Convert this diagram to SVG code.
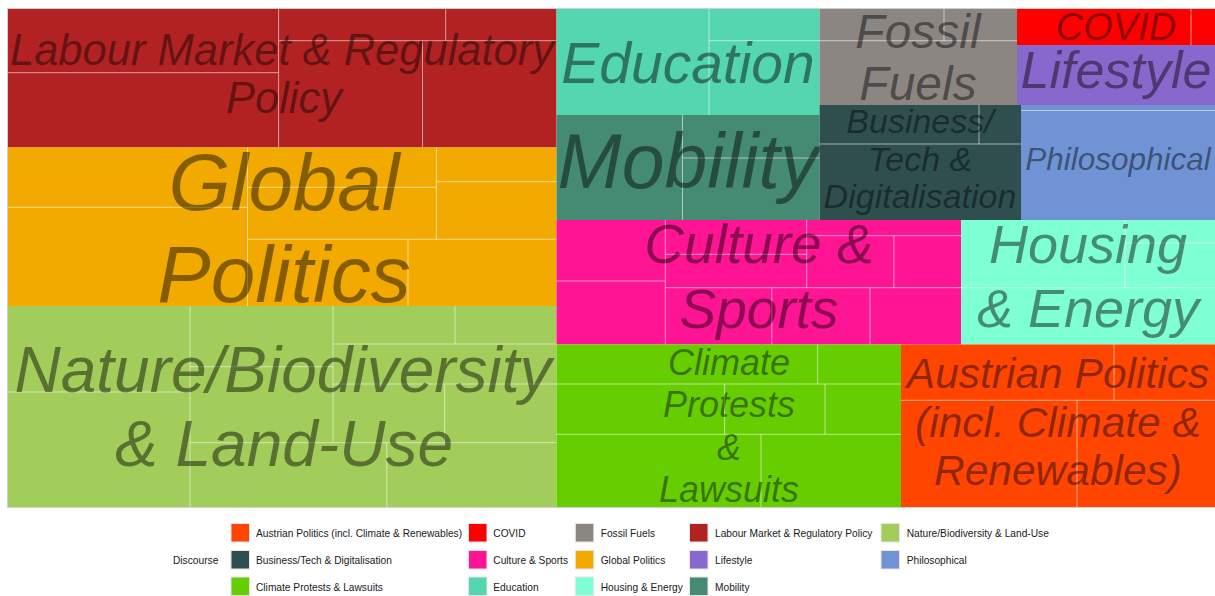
<svg xmlns="http://www.w3.org/2000/svg" width="1215" height="596" viewBox="0 0 1215 596">
<style>
.lbl{font-family:"Liberation Sans",Arial,sans-serif;font-style:italic;text-anchor:middle;fill:#000;fill-opacity:0.45}
.sub{stroke:#fff;stroke-opacity:0.55;stroke-width:1;fill:none}
.leg{font-family:"Liberation Sans",Arial,sans-serif;font-size:10.2px;fill:#1a1a1a}
.key{stroke:#e6e6e6;stroke-width:1}
</style>
<rect x="0" y="0" width="1215" height="596" fill="#fff"/>
<rect x="7.5" y="8.5" width="1208" height="499" fill="none" stroke="#cfcfcf" stroke-width="1"/>

<g id="labour">
<rect x="8" y="9" width="548.5" height="138.5" fill="#B22222"/>
<path class="sub" d="M8 72.7H278.6M278.6 9V147.5M278.6 40.7H556.5M445.7 9V40.7M422.5 40.7V147.5"/>
<text class="lbl" x="282" y="65" font-size="43.5">Labour Market &amp; Regulatory</text>
<text class="lbl" x="284" y="113" font-size="43.5">Policy</text>
</g>

<g id="global-politics">
<rect x="8" y="147.5" width="548.5" height="158.5" fill="#F2AA00"/>
<path class="sub" d="M8 207.3H247.5M247.5 147.5V306M247.5 187.3H436.4M436.4 147.5V239.3M436.4 181.7H556.5M247.5 239.3H556.5M408 239.3V306"/>
<text class="lbl" x="284" y="210" font-size="80">Global</text>
<text class="lbl" x="284" y="302" font-size="80">Politics</text>
</g>

<g id="nature">
<rect x="8" y="306" width="548.5" height="201" fill="#A2CD5A"/>
<path class="sub" d="M190 306V507M8 392H190M190 366.7H333M333 306V442.7M333 344H556.5M455 306V344M333 384H556.5M444.6 384V442.7M190 442.7H556.5M386.8 442.7V507"/>
<text class="lbl" x="283" y="392" font-size="64">Nature/Biodiversity</text>
<text class="lbl" x="284" y="466" font-size="64">&amp; Land-Use</text>
</g>

<g id="education">
<rect x="556.5" y="9" width="263" height="106" fill="#54D6B0"/>
<path class="sub" d="M709 9V115M709 40.7H819.5"/>
<text class="lbl" x="688" y="83" font-size="57">Education</text>
</g>

<g id="mobility">
<rect x="556.5" y="115" width="263" height="105" fill="#458B74"/>
<path class="sub" d="M682.5 115V220M682.5 158H819.5"/>
<text class="lbl" x="688" y="188" font-size="77">Mobility</text>
</g>

<g id="fossil-fuels">
<rect x="819.5" y="9" width="197.5" height="96" fill="#8B8682"/>
<path class="sub" d="M944 9V40.7M819.5 40.7H1017"/>
<text class="lbl" x="918" y="48" font-size="48">Fossil</text>
<text class="lbl" x="918" y="100" font-size="48">Fuels</text>
</g>

<g id="covid">
<rect x="1017" y="9" width="198" height="36" fill="#FF0000"/>
<path class="sub" d="M1191 9V45"/>
<text class="lbl" x="1116" y="40" font-size="38">COVID</text>
</g>

<g id="lifestyle">
<rect x="1017" y="45" width="198" height="60" fill="#8968CD"/>
<text class="lbl" x="1116" y="88" font-size="52">Lifestyle</text>
</g>

<g id="business">
<rect x="819.5" y="105" width="201.5" height="115" fill="#2F4F4F"/>
<path class="sub" d="M819.5 144H1021M979 105V144"/>
<text class="lbl" x="920" y="133" font-size="34">Business/</text>
<text class="lbl" x="920" y="171" font-size="34">Tech &amp;</text>
<text class="lbl" x="920" y="208" font-size="34">Digitalisation</text>
</g>

<g id="philosophical">
<rect x="1021" y="105" width="194" height="115" fill="#6F93D4"/>
<path class="sub" d="M1021 110.5H1215"/>
<text class="lbl" x="1118" y="170" font-size="31.5">Philosophical</text>
</g>

<g id="culture">
<rect x="556.5" y="220" width="404.5" height="124.5" fill="#FF1493"/>
<path class="sub" d="M665.3 220V344.5M556.5 281H665.3M665.3 287.7H961M806.7 220V287.7M806.7 235.7H961M893.9 235.7V287.7M665.3 254.3H806.7M771.8 287.7V344.5M870 287.7V344.5"/>
<text class="lbl" x="759" y="263" font-size="55">Culture &amp;</text>
<text class="lbl" x="759" y="328" font-size="55">Sports</text>
</g>

<g id="housing">
<rect x="961" y="220" width="254" height="124.5" fill="#7FFFD4"/>
<path class="sub" d="M961 287.7H1215M1125 220V287.7M1125 243H1215"/>
<text class="lbl" x="1088" y="263" font-size="54">Housing</text>
<text class="lbl" x="1088" y="327" font-size="54">&amp; Energy</text>
</g>

<g id="climate-protests">
<rect x="556.5" y="344.5" width="344.5" height="162.5" fill="#66CD00"/>
<path class="sub" d="M556.5 384H901M817.7 344.5V384M556.5 434.3H901M825 384V434.3M724.6 384V434.3M761 434.3V507"/>
<text class="lbl" x="729" y="375" font-size="36">Climate</text>
<text class="lbl" x="729" y="417" font-size="36">Protests</text>
<text class="lbl" x="729" y="460" font-size="36">&amp;</text>
<text class="lbl" x="729" y="502" font-size="36">Lawsuits</text>
</g>

<g id="austrian-politics">
<rect x="901" y="344.5" width="314" height="162.5" fill="#FF4500"/>
<path class="sub" d="M901 400.3H1215M1114 344.5V400.3M1077 400.3V507"/>
<text class="lbl" x="1058" y="388" font-size="42.5">Austrian Politics</text>
<text class="lbl" x="1058" y="437" font-size="42.5">(incl. Climate &amp;</text>
<text class="lbl" x="1058" y="485" font-size="42.5">Renewables)</text>
</g>

<g id="connectors"></g>

<g id="legend">
<text class="leg" x="173" y="564.3">Discourse</text>
<rect class="key" x="231" y="523.5" width="18.5" height="18.5" fill="#FF4500"/>
<text class="leg" x="256" y="537.3">Austrian Politics (incl. Climate &amp; Renewables)</text>
<rect class="key" x="231" y="550.5" width="18.5" height="18.5" fill="#2F4F4F"/>
<text class="leg" x="256" y="564.3">Business/Tech &amp; Digitalisation</text>
<rect class="key" x="231" y="577" width="18.5" height="18.5" fill="#66CD00"/>
<text class="leg" x="256" y="591">Climate Protests &amp; Lawsuits</text>

<rect class="key" x="468.5" y="523.5" width="18.5" height="18.5" fill="#FF0000"/>
<text class="leg" x="493.3" y="537.3">COVID</text>
<rect class="key" x="468.5" y="550.5" width="18.5" height="18.5" fill="#FF1493"/>
<text class="leg" x="493.3" y="564.3">Culture &amp; Sports</text>
<rect class="key" x="468.5" y="577" width="18.5" height="18.5" fill="#54D6B0"/>
<text class="leg" x="493.3" y="591">Education</text>

<rect class="key" x="575.3" y="523.5" width="18.5" height="18.5" fill="#8B8682"/>
<text class="leg" x="600.7" y="537.3">Fossil Fuels</text>
<rect class="key" x="575.3" y="550.5" width="18.5" height="18.5" fill="#F2AA00"/>
<text class="leg" x="600.7" y="564.3">Global Politics</text>
<rect class="key" x="575.3" y="577" width="18.5" height="18.5" fill="#7FFFD4"/>
<text class="leg" x="600.7" y="591">Housing &amp; Energy</text>

<rect class="key" x="689.5" y="523.5" width="18.5" height="18.5" fill="#B22222"/>
<text class="leg" x="715" y="537.3">Labour Market &amp; Regulatory Policy</text>
<rect class="key" x="689.5" y="550.5" width="18.5" height="18.5" fill="#8968CD"/>
<text class="leg" x="715" y="564.3">Lifestyle</text>
<rect class="key" x="689.5" y="577" width="18.5" height="18.5" fill="#458B74"/>
<text class="leg" x="715" y="591">Mobility</text>

<rect class="key" x="881" y="523.5" width="18.5" height="18.5" fill="#A2CD5A"/>
<text class="leg" x="906.7" y="537.3">Nature/Biodiversity &amp; Land-Use</text>
<rect class="key" x="881" y="550.5" width="18.5" height="18.5" fill="#6F93D4"/>
<text class="leg" x="906.7" y="564.3">Philosophical</text>
</g>
</svg>
